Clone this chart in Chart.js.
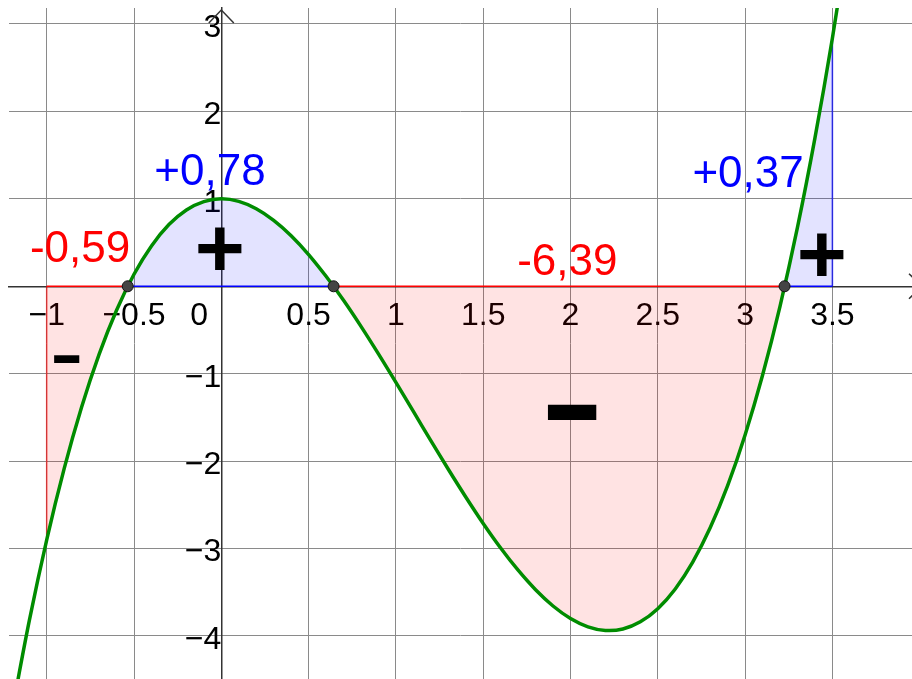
<!DOCTYPE html>
<html>
<head>
<meta charset="utf-8">
<script src="https://cdn.jsdelivr.net/npm/chart.js@4.4.0/dist/chart.umd.min.js"></script>
<style>
  html, body { margin: 0; padding: 0; background: #fff; }
  #wrap { width: 912px; height: 679px; position: relative; }
</style>
</head>
<body>
<div id="wrap"><canvas id="grafik"></canvas></div>
<script>
// curve, one point every 0.1 on x
var curveX = [-1.2, -1.1, -1.0, -0.9, -0.8, -0.7, -0.6, -0.5, -0.4, -0.3, -0.2, -0.1,
  0, 0.1, 0.2, 0.3, 0.4, 0.5, 0.6, 0.7, 0.8, 0.9, 1.0, 1.1, 1.2, 1.3, 1.4, 1.5, 1.6,
  1.7, 1.8, 1.9, 2.0, 2.1, 2.2, 2.3, 2.4, 2.5, 2.6, 2.7, 2.8, 2.9, 3.0, 3.1, 3.2,
  3.3, 3.4, 3.5, 3.6];
var curveY = [-4.875, -3.828, -2.9, -2.086, -1.381, -0.779, -0.274, 0.138, 0.462, 0.706, 0.873, 0.969,
  1, 0.971, 0.887, 0.754, 0.578, 0.363, 0.114, -0.161, -0.459, -0.774, -1.1, -1.432, -1.765, -2.093, -2.41, -2.713, -2.994,
  -3.248, -3.471, -3.657, -3.8, -3.895, -3.937, -3.92, -3.838, -3.688, -3.462, -3.155, -2.763, -2.28, -1.7, -1.018, -0.229,
  0.673, 1.694, 2.838, 4.11];

// zeros and integration bounds
var roots = [-0.536, 0.643, 3.226];
var lowerBound = -1;
var upperBound = 3.5;

// tick labels
var xTicks = [-1, -0.5, 0, 0.5, 1, 1.5, 2, 2.5, 3, 3.5];
var xTickLabels = ['\u22121', '\u22120.5', '0     ', '0.5', '1', '1.5', '2', '2.5', '3', '3.5'];
var yTicks = [-4, -3, -2, -1, 0, 1, 2, 3];
var yTickLabels = ['\u22124', '\u22123', '\u22122', '\u22121', '', '1', '2', '3'];

// area values and signs, left to right
var areaLabels = ['-0,59', '+0,78', '-6,39', '+0,37'];
var signLabels = ['-', '+', '-', '+'];

// where the texts go (data coords) and how they look
var labelPos = [[-0.809, 0.278], [-0.065, 1.159], [1.982, 0.129], [3.017, 1.141]];
var labelColors = ['#ff0000', '#0000ff', '#ff0000', '#0000ff'];
var signPos = [[-0.884, -0.832], [-0.007, 0.427], [2.013, -1.438], [3.440, 0.358]];
var signBox = [[26, 8], [44, 43], [50, 16], [44, 43]];

var fontFam = '"Liberation Sans", Arial, sans-serif';

var curvePts = curveX.map(function (x, i) { return { x: x, y: curveY[i] }; });
var areaPts = curvePts.filter(function (p) { return p.x >= lowerBound && p.x <= upperBound; });
var yAtLow = curveY[curveX.indexOf(lowerBound)];
var yAtHigh = curveY[curveX.indexOf(upperBound)];

// outline of the shaded pieces: left edge, x-axis pieces, right edge
var edgePts = [
  { x: lowerBound, y: yAtLow }, { x: lowerBound, y: 0 },
  { x: roots[0], y: 0 }, { x: roots[1], y: 0 }, { x: roots[2], y: 0 },
  { x: upperBound, y: 0 }, { x: upperBound, y: yAtHigh }
];
var edgeColors = ['rgba(255,0,0,0.6)', '#ff0000', '#0000ff', '#ff0000', '#0000ff', 'rgba(0,0,255,0.7)'];
var rootPts = roots.map(function (r) { return { x: r, y: 0 }; });

// axes sit inside the plot, so they must not eat any room
function noRoom(s) {
  if (s.isHorizontal()) s.height = 0; else s.width = 0;
  s.paddingLeft = 0; s.paddingRight = 0; s.paddingTop = 0; s.paddingBottom = 0;
}

var decor = {
  id: 'decor',
  afterDraw: function (chart) {
    var c = chart.ctx, xs = chart.scales.x, ys = chart.scales.y, a = chart.chartArea;
    var ax = xs.getPixelForValue(0), ay = ys.getPixelForValue(0);
    c.save();
    // arrow heads
    c.strokeStyle = '#333';
    c.lineWidth = 1.5;
    c.beginPath();
    c.moveTo(ax - 12.5, a.top + 15); c.lineTo(ax, a.top + 2); c.lineTo(ax + 12.5, a.top + 15);
    c.stroke();
    c.beginPath();
    c.moveTo(a.right - 3, ay - 12.5); c.lineTo(a.right + 10, ay); c.lineTo(a.right - 3, ay + 12.5);
    c.stroke();

    // area values
    c.font = '44px ' + fontFam;
    c.textAlign = 'center';
    c.textBaseline = 'alphabetic';
    areaLabels.forEach(function (t, i) {
      c.fillStyle = labelColors[i];
      c.fillText(t, xs.getPixelForValue(labelPos[i][0]), ys.getPixelForValue(labelPos[i][1]));
    });

    // big signs, stretched to their box
    c.fillStyle = '#000';
    c.textAlign = 'left';
    c.font = 'bold 80px ' + fontFam;
    signLabels.forEach(function (t, i) {
      var m = c.measureText(t);
      var L = m.actualBoundingBoxLeft, R = m.actualBoundingBoxRight;
      var A = m.actualBoundingBoxAscent, D = m.actualBoundingBoxDescent;
      var sx = signBox[i][0] / (L + R), sy = signBox[i][1] / (A + D);
      var cx = xs.getPixelForValue(signPos[i][0]), cy = ys.getPixelForValue(signPos[i][1]);
      c.save();
      c.translate(cx, cy);
      c.scale(sx, sy);
      c.fillText(t, (L - R) / 2, (A - D) / 2);
      c.restore();
    });
    c.restore();
  }
};

var ctx = document.getElementById('grafik').getContext('2d');

var myChart = new Chart(ctx, {
  type: 'line',
  data: {
    datasets: [
      {
        data: rootPts,
        showLine: false,
        pointRadius: 5.5,
        pointBackgroundColor: '#444',
        pointBorderColor: '#111',
        pointBorderWidth: 1,
        order: -1
      },
      {
        data: curvePts,
        borderColor: 'rgb(0,140,0)',
        borderWidth: 3.5,
        tension: 0.33,
        pointRadius: 0,
        fill: false,
        order: 0
      },
      {
        data: edgePts,
        borderWidth: 1.6,
        pointRadius: 0,
        fill: false,
        segment: {
          borderColor: function (s) { return edgeColors[s.p0DataIndex]; }
        },
        order: 1
      },
      {
        data: areaPts,
        borderWidth: 0,
        pointRadius: 0,
        tension: 0.33,
        fill: { target: 'origin', above: 'rgba(0,0,255,0.11)', below: 'rgba(255,0,0,0.11)' },
        order: 2
      }
    ]
  },
  options: {
    responsive: true,
    maintainAspectRatio: false,
    animation: false,
    layout: { autoPadding: false, padding: { left: 9, top: 8, right: 0, bottom: 0 } },
    plugins: {
      legend: { display: false },
      tooltip: { enabled: false }
    },
    scales: {
      x: {
        type: 'linear',
        min: -1.216,
        max: 3.956,
        position: { y: 0 },
        afterFit: noRoom,
        afterBuildTicks: function (s) { s.ticks = xTicks.map(function (v) { return { value: v }; }); },
        grid: { color: '#8a8a8a', lineWidth: 1, drawTicks: false },
        border: { color: '#333', width: 1.5 },
        ticks: {
          autoSkip: false,
          maxRotation: 0,
          padding: 11,
          color: '#000',
          font: { family: fontFam, size: 32 },
          callback: function (v) { return xTickLabels[xTicks.indexOf(v)]; }
        }
      },
      y: {
        type: 'linear',
        min: -4.492,
        max: 3.183,
        position: { x: 0 },
        afterFit: noRoom,
        afterBuildTicks: function (s) { s.ticks = yTicks.map(function (v) { return { value: v }; }); },
        grid: { color: '#8a8a8a', lineWidth: 1, drawTicks: false },
        border: { color: '#333', width: 1.5 },
        ticks: {
          autoSkip: false,
          padding: 17,
          labelOffset: 4,
          color: '#000',
          font: { family: fontFam, size: 32 },
          callback: function (v) { return yTickLabels[yTicks.indexOf(v)]; }
        }
      }
    }
  },
  plugins: [decor]
});
</script>
</body>
</html>
